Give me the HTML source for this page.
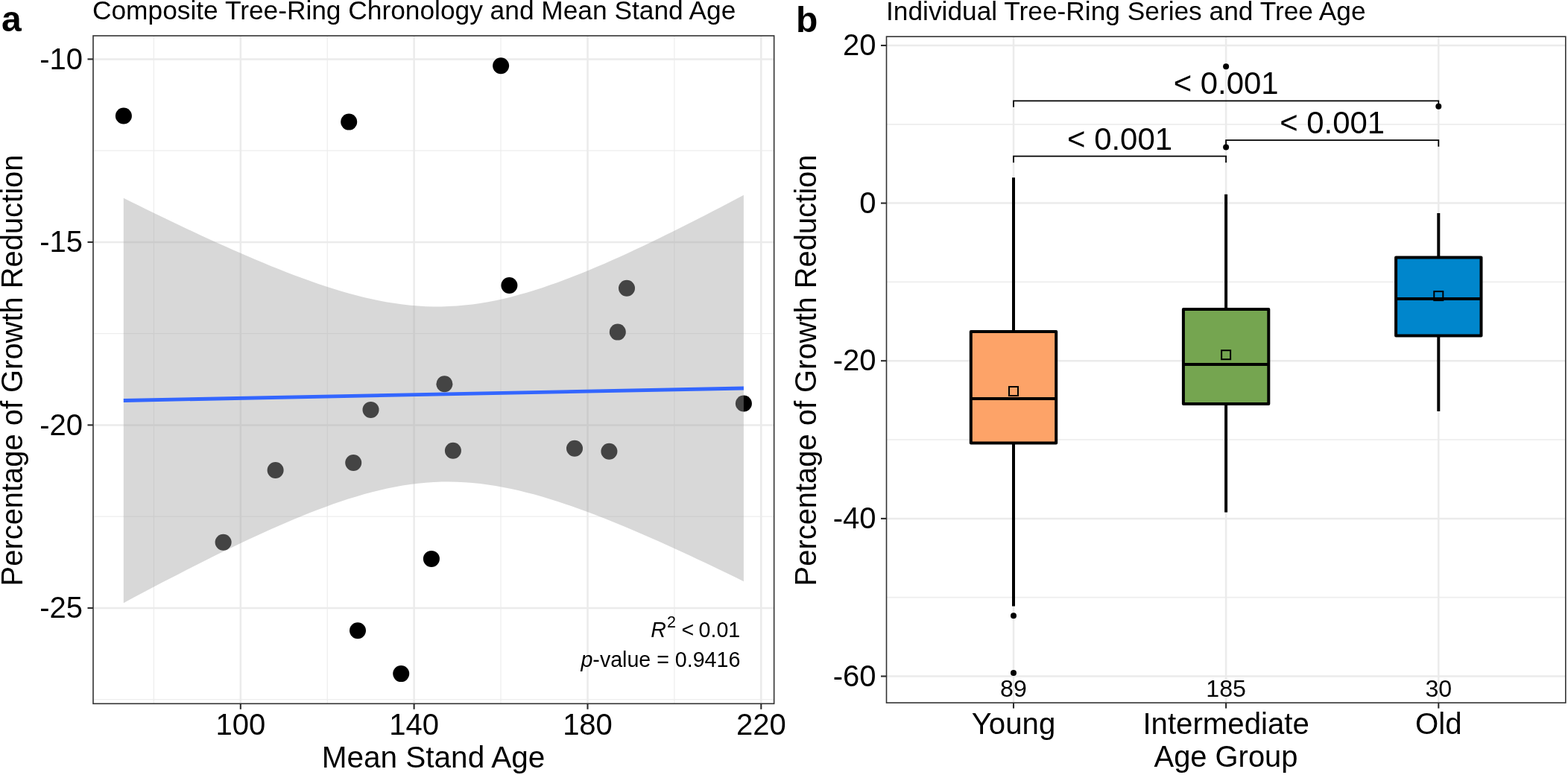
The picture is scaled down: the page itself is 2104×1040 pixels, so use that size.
<!DOCTYPE html>
<html lang="en"><head><meta charset="utf-8"><title>Tree-Ring Growth Reduction</title>
<style>html,body{margin:0;padding:0;background:#fff;}body{width:2104px;height:1040px;overflow:hidden;}svg{display:block;}text{font-family:"Liberation Sans",sans-serif;fill:#000;}.tk{font-size:40px;}.tb{font-size:40.2px;}.ag{font-size:39.9px;}.ax{font-size:40.5px;}.ay{font-size:39.9px;}.ti{font-size:35.3px;}.pl{font-size:48px;font-weight:bold;}.pv{font-size:41.9px;}.n{font-size:32.2px;}.st{font-size:28.6px;}</style></head><body>
<svg width="2104" height="1040" viewBox="0 0 2104 1040">
<rect width="2104" height="1040" fill="#fff"/>
<g id="panel-a">
<rect x="125.0" y="48.0" width="913.6500000000001" height="896.3" fill="#fff"/>
<line x1="125.0" x2="1038.65" y1="202.2" y2="202.2" stroke="#ededed" stroke-width="1.2"/>
<line x1="125.0" x2="1038.65" y1="447.6" y2="447.6" stroke="#ededed" stroke-width="1.2"/>
<line x1="125.0" x2="1038.65" y1="693.1" y2="693.1" stroke="#ededed" stroke-width="1.2"/>
<line x1="125.0" x2="1038.65" y1="938.6" y2="938.6" stroke="#ededed" stroke-width="1.2"/>
<line y1="48.0" y2="944.3" x1="206.4" x2="206.4" stroke="#ededed" stroke-width="1.2"/>
<line y1="48.0" y2="944.3" x1="439.2" x2="439.2" stroke="#ededed" stroke-width="1.2"/>
<line y1="48.0" y2="944.3" x1="672.0" x2="672.0" stroke="#ededed" stroke-width="1.2"/>
<line y1="48.0" y2="944.3" x1="904.9" x2="904.9" stroke="#ededed" stroke-width="1.2"/>
<line x1="125.0" x2="1038.65" y1="79.4" y2="79.4" stroke="#ebebeb" stroke-width="2.5"/>
<line x1="125.0" x2="1038.65" y1="324.9" y2="324.9" stroke="#ebebeb" stroke-width="2.5"/>
<line x1="125.0" x2="1038.65" y1="570.4" y2="570.4" stroke="#ebebeb" stroke-width="2.5"/>
<line x1="125.0" x2="1038.65" y1="815.9" y2="815.9" stroke="#ebebeb" stroke-width="2.5"/>
<line y1="48.0" y2="944.3" x1="322.8" x2="322.8" stroke="#ebebeb" stroke-width="2.5"/>
<line y1="48.0" y2="944.3" x1="555.6" x2="555.6" stroke="#ebebeb" stroke-width="2.5"/>
<line y1="48.0" y2="944.3" x1="788.5" x2="788.5" stroke="#ebebeb" stroke-width="2.5"/>
<line y1="48.0" y2="944.3" x1="1021.3" x2="1021.3" stroke="#ebebeb" stroke-width="2.5"/>
<circle cx="165.9" cy="155.5" r="11" fill="#000"/>
<circle cx="468.2" cy="163.6" r="11" fill="#000"/>
<circle cx="672.1" cy="88.2" r="11" fill="#000"/>
<circle cx="683.4" cy="383" r="11" fill="#000"/>
<circle cx="841" cy="386.7" r="11" fill="#000"/>
<circle cx="828.8" cy="445.6" r="11" fill="#000"/>
<circle cx="596.4" cy="515.3" r="11" fill="#000"/>
<circle cx="497.5" cy="549.9" r="11" fill="#000"/>
<circle cx="997.9" cy="541.5" r="11" fill="#000"/>
<circle cx="607.9" cy="604.8" r="11" fill="#000"/>
<circle cx="474.2" cy="621" r="11" fill="#000"/>
<circle cx="369.6" cy="631" r="11" fill="#000"/>
<circle cx="771" cy="601.8" r="11" fill="#000"/>
<circle cx="817.4" cy="605.8" r="11" fill="#000"/>
<circle cx="299.6" cy="727.7" r="11" fill="#000"/>
<circle cx="578.9" cy="749.9" r="11" fill="#000"/>
<circle cx="480" cy="846.2" r="11" fill="#000"/>
<circle cx="538.2" cy="904.1" r="11" fill="#000"/>
<path d="M165.8,265.8 L176.2,271.0 L186.6,276.1 L197.0,281.2 L207.4,286.3 L217.8,291.3 L228.2,296.3 L238.6,301.2 L249.0,306.2 L259.4,311.1 L269.8,315.9 L280.2,320.7 L290.6,325.4 L301.0,330.1 L311.4,334.8 L321.8,339.3 L332.2,343.8 L342.6,348.3 L353.0,352.6 L363.4,356.9 L373.8,361.1 L384.2,365.2 L394.6,369.2 L405.0,373.0 L415.4,376.8 L425.8,380.4 L436.2,383.9 L446.6,387.3 L457.0,390.4 L467.4,393.4 L477.8,396.2 L488.2,398.9 L498.6,401.3 L509.0,403.5 L519.4,405.4 L529.8,407.1 L540.2,408.5 L550.6,409.7 L561.0,410.6 L571.4,411.2 L581.9,411.4 L592.3,411.4 L602.7,411.1 L613.1,410.5 L623.5,409.6 L633.9,408.4 L644.3,407.0 L654.7,405.2 L665.1,403.2 L675.5,400.9 L685.9,398.4 L696.3,395.6 L706.7,392.7 L717.1,389.5 L727.5,386.2 L737.9,382.6 L748.3,378.9 L758.7,375.1 L769.1,371.1 L779.5,367.0 L789.9,362.7 L800.3,358.3 L810.7,353.9 L821.1,349.3 L831.5,344.7 L841.9,339.9 L852.3,335.1 L862.7,330.2 L873.1,325.2 L883.5,320.2 L893.9,315.1 L904.3,310.0 L914.7,304.8 L925.1,299.6 L935.5,294.3 L945.9,289.0 L956.3,283.6 L966.7,278.2 L977.1,272.8 L987.5,267.3 L997.9,261.8 L997.9,780.2 L987.5,775.1 L977.1,770.1 L966.7,765.0 L956.3,760.1 L945.9,755.1 L935.5,750.2 L925.1,745.3 L914.7,740.5 L904.3,735.7 L893.9,731.0 L883.5,726.3 L873.1,721.7 L862.7,717.2 L852.3,712.7 L841.9,708.3 L831.5,703.9 L821.1,699.7 L810.7,695.5 L800.3,691.5 L789.9,687.5 L779.5,683.7 L769.1,680.0 L758.7,676.4 L748.3,673.0 L737.9,669.7 L727.5,666.6 L717.1,663.6 L706.7,660.9 L696.3,658.3 L685.9,656.0 L675.5,653.9 L665.1,652.0 L654.7,650.4 L644.3,649.1 L633.9,648.0 L623.5,647.2 L613.1,646.7 L602.7,646.5 L592.3,646.6 L581.9,647.1 L571.4,647.8 L561.0,648.8 L550.6,650.1 L540.2,651.6 L529.8,653.5 L519.4,655.6 L509.0,657.9 L498.6,660.5 L488.2,663.3 L477.8,666.4 L467.4,669.6 L457.0,673.0 L446.6,676.6 L436.2,680.4 L425.8,684.3 L415.4,688.3 L405.0,692.5 L394.6,696.8 L384.2,701.2 L373.8,705.7 L363.4,710.3 L353.0,715.0 L342.6,719.7 L332.2,724.6 L321.8,729.5 L311.4,734.5 L301.0,739.5 L290.6,744.6 L280.2,749.8 L269.8,755.0 L259.4,760.2 L249.0,765.5 L238.6,770.9 L228.2,776.2 L217.8,781.6 L207.4,787.1 L197.0,792.6 L186.6,798.1 L176.2,803.6 L165.8,809.2Z" fill="#a3a3a3" fill-opacity="0.42"/>
<line x1="165.8" y1="537.5" x2="997.9" y2="521.0" stroke="#3366ff" stroke-width="4.8"/>
<rect x="125.0" y="48.0" width="913.6500000000001" height="896.3" fill="none" stroke="#333" stroke-width="1.6"/>
<line x1="117.5" x2="125.0" y1="79.4" y2="79.4" stroke="#2b2b2b" stroke-width="2.1"/>
<text class="tk" x="111.0" y="92.6" text-anchor="end">-10</text>
<line x1="117.5" x2="125.0" y1="324.9" y2="324.9" stroke="#2b2b2b" stroke-width="2.1"/>
<text class="tk" x="111.0" y="338.1" text-anchor="end">-15</text>
<line x1="117.5" x2="125.0" y1="570.4" y2="570.4" stroke="#2b2b2b" stroke-width="2.1"/>
<text class="tk" x="111.0" y="583.6" text-anchor="end">-20</text>
<line x1="117.5" x2="125.0" y1="815.9" y2="815.9" stroke="#2b2b2b" stroke-width="2.1"/>
<text class="tk" x="111.0" y="829.1" text-anchor="end">-25</text>
<line y1="944.3" y2="951.8" x1="322.8" x2="322.8" stroke="#2b2b2b" stroke-width="2.1"/>
<text class="tk" x="322.8" y="986.3" text-anchor="middle">100</text>
<line y1="944.3" y2="951.8" x1="555.6" x2="555.6" stroke="#2b2b2b" stroke-width="2.1"/>
<text class="tk" x="555.6" y="986.3" text-anchor="middle">140</text>
<line y1="944.3" y2="951.8" x1="788.5" x2="788.5" stroke="#2b2b2b" stroke-width="2.1"/>
<text class="tk" x="788.5" y="986.3" text-anchor="middle">180</text>
<line y1="944.3" y2="951.8" x1="1021.3" x2="1021.3" stroke="#2b2b2b" stroke-width="2.1"/>
<text class="tk" x="1021.3" y="986.3" text-anchor="middle">220</text>
<text class="ax" x="581.5" y="1030.2" text-anchor="middle">Mean Stand Age</text>
<text class="ay" transform="translate(30,497) rotate(-90)" text-anchor="middle">Percentage of Growth Reduction</text>
<text class="ti" x="124" y="25.7">Composite Tree-Ring Chronology and Mean Stand Age</text>
<text class="pl" x="2" y="42.2">a</text>
<text class="st" x="873.2" y="855"><tspan font-style="italic">R</tspan></text>
<text x="895.0" y="842" style="font-size:21.5px">2</text>
<text class="st" x="914.6" y="855">&lt;</text>
<text class="st" x="937.6" y="855">0.01</text>
<text class="st" x="993.3" y="894.5" text-anchor="end"><tspan font-style="italic">p</tspan>-value = 0.9416</text>
</g>
<g id="panel-b">
<rect x="1189.5" y="49.1" width="911.3000000000002" height="894.0" fill="#fff"/>
<line x1="1189.5" x2="2100.8" y1="166.8" y2="166.8" stroke="#ededed" stroke-width="1.7"/>
<line x1="1189.5" x2="2100.8" y1="378.4" y2="378.4" stroke="#ededed" stroke-width="1.7"/>
<line x1="1189.5" x2="2100.8" y1="590.0" y2="590.0" stroke="#ededed" stroke-width="1.7"/>
<line x1="1189.5" x2="2100.8" y1="801.7" y2="801.7" stroke="#ededed" stroke-width="1.7"/>
<line x1="1189.5" x2="2100.8" y1="61.0" y2="61.0" stroke="#ebebeb" stroke-width="2.5"/>
<line x1="1189.5" x2="2100.8" y1="272.6" y2="272.6" stroke="#ebebeb" stroke-width="2.5"/>
<line x1="1189.5" x2="2100.8" y1="484.2" y2="484.2" stroke="#ebebeb" stroke-width="2.5"/>
<line x1="1189.5" x2="2100.8" y1="695.9" y2="695.9" stroke="#ebebeb" stroke-width="2.5"/>
<line x1="1189.5" x2="2100.8" y1="907.5" y2="907.5" stroke="#ebebeb" stroke-width="2.5"/>
<line y1="49.1" y2="943.1" x1="1360.0" x2="1360.0" stroke="#ebebeb" stroke-width="2.5"/>
<line y1="49.1" y2="943.1" x1="1645.1" x2="1645.1" stroke="#ebebeb" stroke-width="2.5"/>
<line y1="49.1" y2="943.1" x1="1930.3" x2="1930.3" stroke="#ebebeb" stroke-width="2.5"/>
<circle cx="1360.0" cy="826.3" r="4" fill="#000"/>
<circle cx="1360.0" cy="903.0" r="4" fill="#000"/>
<line x1="1360.0" x2="1360.0" y1="238.3" y2="445.1" stroke="#000" stroke-width="4"/>
<line x1="1360.0" x2="1360.0" y1="594.5" y2="813.5" stroke="#000" stroke-width="4"/>
<rect x="1302.8" y="445.1" width="114.4" height="149.39999999999998" fill="#fda368" stroke="#000" stroke-width="4" stroke-linejoin="round"/>
<line x1="1302.8" x2="1417.2" y1="534.9" y2="534.9" stroke="#000" stroke-width="4"/>
<rect x="1354.0" y="519.0" width="12" height="12" fill="none" stroke="#000" stroke-width="2"/>
<circle cx="1645.1" cy="89.2" r="4" fill="#000"/>
<circle cx="1645.1" cy="197.6" r="4" fill="#000"/>
<line x1="1645.1" x2="1645.1" y1="260.8" y2="415.0" stroke="#000" stroke-width="4"/>
<line x1="1645.1" x2="1645.1" y1="542.0" y2="687.6" stroke="#000" stroke-width="4"/>
<rect x="1587.8999999999999" y="415.0" width="114.4" height="127.0" fill="#75a550" stroke="#000" stroke-width="4" stroke-linejoin="round"/>
<line x1="1587.8999999999999" x2="1702.3" y1="489.1" y2="489.1" stroke="#000" stroke-width="4"/>
<rect x="1639.1" y="470.2" width="12" height="12" fill="none" stroke="#000" stroke-width="2"/>
<circle cx="1930.3" cy="142.8" r="4" fill="#000"/>
<line x1="1930.3" x2="1930.3" y1="286.0" y2="345.4" stroke="#000" stroke-width="4"/>
<line x1="1930.3" x2="1930.3" y1="450.4" y2="551.9" stroke="#000" stroke-width="4"/>
<rect x="1873.1" y="345.4" width="114.4" height="105.0" fill="#0086cc" stroke="#000" stroke-width="4" stroke-linejoin="round"/>
<line x1="1873.1" x2="1987.5" y1="401.0" y2="401.0" stroke="#000" stroke-width="4"/>
<rect x="1924.3" y="391.1" width="12" height="12" fill="none" stroke="#000" stroke-width="2"/>
<path d="M1360.0,143.8 V135.3 H1930.3 V143.8" fill="none" stroke="#000" stroke-width="1.8"/>
<text class="pv" x="1645.15" y="126" text-anchor="middle">&lt; 0.001</text>
<path d="M1360.0,218.2 V209.7 H1645.1 V218.2" fill="none" stroke="#000" stroke-width="1.8"/>
<text class="pv" x="1502.55" y="200.6" text-anchor="middle">&lt; 0.001</text>
<path d="M1645.1,196.7 V188.2 H1930.3 V196.7" fill="none" stroke="#000" stroke-width="1.8"/>
<text class="pv" x="1787.6999999999998" y="179.3" text-anchor="middle">&lt; 0.001</text>
<text class="n" x="1360.0" y="934.8" text-anchor="middle">89</text>
<text class="n" x="1645.1" y="934.8" text-anchor="middle">185</text>
<text class="n" x="1930.3" y="934.8" text-anchor="middle">30</text>
<rect x="1189.5" y="49.1" width="911.3000000000002" height="894.0" fill="none" stroke="#333" stroke-width="1.6"/>
<line x1="1182.0" x2="1189.5" y1="61.0" y2="61.0" stroke="#2b2b2b" stroke-width="2.1"/>
<text class="tk" x="1175.5" y="74.2" text-anchor="end">20</text>
<line x1="1182.0" x2="1189.5" y1="272.6" y2="272.6" stroke="#2b2b2b" stroke-width="2.1"/>
<text class="tk" x="1175.5" y="285.8" text-anchor="end">0</text>
<line x1="1182.0" x2="1189.5" y1="484.2" y2="484.2" stroke="#2b2b2b" stroke-width="2.1"/>
<text class="tk" x="1175.5" y="497.4" text-anchor="end">-20</text>
<line x1="1182.0" x2="1189.5" y1="695.9" y2="695.9" stroke="#2b2b2b" stroke-width="2.1"/>
<text class="tk" x="1175.5" y="709.1" text-anchor="end">-40</text>
<line x1="1182.0" x2="1189.5" y1="907.5" y2="907.5" stroke="#2b2b2b" stroke-width="2.1"/>
<text class="tk" x="1175.5" y="920.7" text-anchor="end">-60</text>
<line y1="943.1" y2="950.6" x1="1360.0" x2="1360.0" stroke="#2b2b2b" stroke-width="2.1"/>
<text class="tb" x="1360.0" y="985.2" text-anchor="middle">Young</text>
<line y1="943.1" y2="950.6" x1="1645.1" x2="1645.1" stroke="#2b2b2b" stroke-width="2.1"/>
<text class="tb" x="1645.1" y="985.2" text-anchor="middle">Intermediate</text>
<line y1="943.1" y2="950.6" x1="1930.3" x2="1930.3" stroke="#2b2b2b" stroke-width="2.1"/>
<text class="tb" x="1930.3" y="985.2" text-anchor="middle">Old</text>
<text class="ag" x="1645" y="1028.6" text-anchor="middle">Age Group</text>
<text class="ay" transform="translate(1095.3,497) rotate(-90)" text-anchor="middle">Percentage of Growth Reduction</text>
<text class="ti" x="1189" y="26.8">Individual Tree-Ring Series and Tree Age</text>
<text class="pl" x="1068" y="42.5">b</text>
</g>
</svg></body></html>
